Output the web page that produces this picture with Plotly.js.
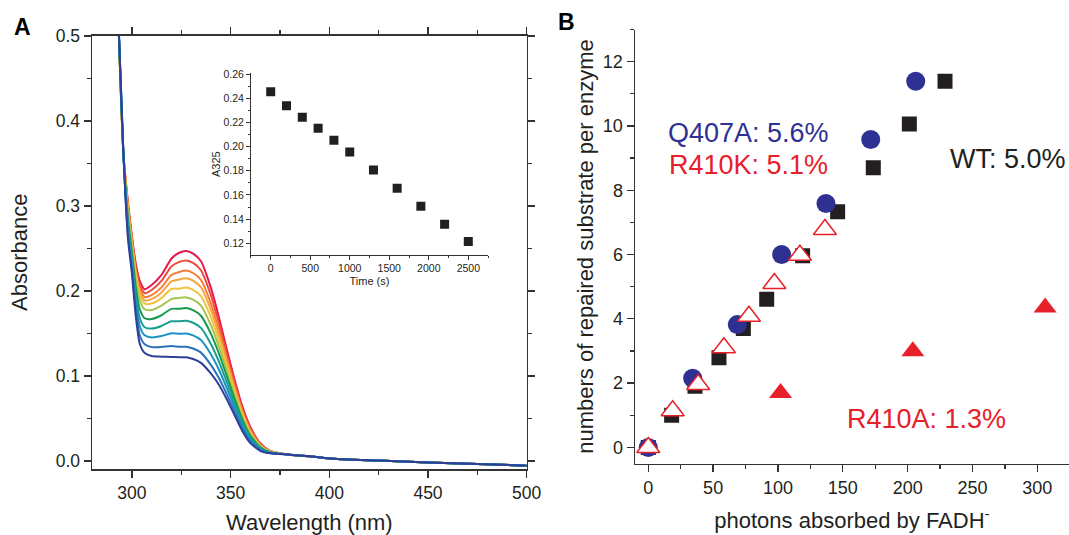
<!DOCTYPE html>
<html>
<head>
<meta charset="utf-8">
<script src="https://cdn.plot.ly/plotly-3.0.1.min.js"></script>
<style>html,body{margin:0;padding:0;background:#fff;}#chart{width:1069px;height:535px;}</style>
</head>
<body>
<div id="chart"></div>
<script>
// ---------- Panel A: absorption spectra ----------
const wavelength = [293, 295.7, 298, 300, 302, 304, 306.5, 310, 315, 320, 324, 327.5, 331, 335, 340, 344, 348, 352, 356, 360, 365, 370];
const tailWavelength = [380, 390, 400, 425, 450, 475, 500];
const tailAbsorbance = [0.0075, 0.0055, 0.003, 0.0005, -0.0018, -0.0035, -0.0055];

const spec0  = [0.53, 0.362, 0.305, 0.265, 0.232, 0.212, 0.202, 0.207, 0.219, 0.238, 0.245, 0.247, 0.244, 0.235, 0.204, 0.170, 0.132, 0.096, 0.064, 0.040, 0.021, 0.012];
const spec1  = [0.53, 0.362, 0.302, 0.262, 0.228, 0.2075, 0.1974, 0.2012, 0.2119, 0.2288, 0.2342, 0.236, 0.2331, 0.2245, 0.1951, 0.163, 0.1268, 0.0923, 0.0614, 0.0383, 0.0202, 0.0117];
const spec2  = [0.53, 0.362, 0.300, 0.260, 0.224, 0.203, 0.1928, 0.1952, 0.2043, 0.2188, 0.2224, 0.224, 0.2212, 0.213, 0.1854, 0.1553, 0.1211, 0.0883, 0.0587, 0.0365, 0.0193, 0.0114];
const spec3  = [0.53, 0.362, 0.298, 0.257, 0.221, 0.199, 0.189, 0.1904, 0.1983, 0.2113, 0.2136, 0.215, 0.2123, 0.2044, 0.1781, 0.1495, 0.1169, 0.0852, 0.0566, 0.0351, 0.0187, 0.0112];
const spec4  = [0.53, 0.362, 0.295, 0.255, 0.218, 0.195, 0.1852, 0.1853, 0.1917, 0.2024, 0.2028, 0.204, 0.2013, 0.1939, 0.1693, 0.1425, 0.1117, 0.0816, 0.054, 0.0335, 0.0179, 0.011];
const spec5  = [0.53, 0.362, 0.291, 0.251, 0.212, 0.189, 0.1783, 0.1776, 0.1828, 0.1905, 0.1918, 0.1925, 0.1899, 0.1829, 0.160, 0.1351, 0.1063, 0.0777, 0.0514, 0.0317, 0.0171, 0.0107];
const spec6  = [0.53, 0.362, 0.286, 0.245, 0.204, 0.1785, 0.168, 0.1671, 0.1715, 0.179, 0.1792, 0.180, 0.1775, 0.1709, 0.1499, 0.1271, 0.1004, 0.0735, 0.0485, 0.0298, 0.0162, 0.0104];
const spec7  = [0.53, 0.362, 0.279, 0.239, 0.195, 0.168, 0.1574, 0.1558, 0.1589, 0.1644, 0.1644, 0.165, 0.1627, 0.1566, 0.1377, 0.1175, 0.0933, 0.0684, 0.045, 0.0275, 0.0151, 0.010];
const spec8  = [0.53, 0.362, 0.274, 0.233, 0.187, 0.1586, 0.1479, 0.1454, 0.147, 0.1503, 0.1497, 0.150, 0.1478, 0.1423, 0.1256, 0.1079, 0.0862, 0.0634, 0.0415, 0.0253, 0.014, 0.0097];
const spec9  = [0.53, 0.362, 0.268, 0.227, 0.179, 0.148, 0.1373, 0.134, 0.1342, 0.1353, 0.1345, 0.1345, 0.1324, 0.1275, 0.1131, 0.098, 0.0789, 0.0582, 0.0379, 0.0229, 0.0129, 0.0093];
const spec10 = [0.53, 0.362, 0.262, 0.221, 0.170, 0.138, 0.127, 0.1235, 0.1228, 0.1225, 0.1222, 0.122, 0.120, 0.1155, 0.103, 0.090, 0.073, 0.054, 0.035, 0.021, 0.012, 0.009];
const spectra = [spec0, spec1, spec2, spec3, spec4, spec5, spec6, spec7, spec8, spec9, spec10];
const spectraColors = ['#e5194f', '#ee4a3a', '#f47c35', '#f8a33c', '#efc43f', '#a8c450', '#16994a', '#179e8e', '#1b93c2', '#2a72ba', '#2e3f98'];

// ---------- Inset: A325 vs time ----------
const timeS = [0, 200, 400, 600, 800, 1000, 1300, 1600, 1900, 2200, 2500];
const a325 = [0.2454, 0.2338, 0.2242, 0.2151, 0.2052, 0.1955, 0.1806, 0.1655, 0.1506, 0.1357, 0.1214];

// ---------- Panel B: repaired substrate vs photons ----------
const wtX = [0, 18, 36, 54.5, 73.3, 91.3, 119, 146, 173.5, 201.3, 228.8];
const wtY = [0, 1.0, 1.9, 2.79, 3.70, 4.61, 5.96, 7.33, 8.70, 10.06, 11.39];
const q407aX = [0, 34.2, 68.6, 102.8, 137, 171.5, 206.2];
const q407aY = [0, 2.15, 3.82, 6.0, 7.59, 9.58, 11.39];
const r410kX = [0, 18.8, 38.5, 58.3, 77.6, 97.2, 116.9, 136.2];
const r410kY = [0, 1.14, 1.96, 3.10, 4.08, 5.10, 5.98, 6.78];
const r410aX = [102, 204, 306];
const r410aY = [1.69, 2.99, 4.35];

const FONT = 'Liberation Sans, Arial, Helvetica, sans-serif';
const INK = '#231f20';
const AX = '#333333';
const BLUE = '#2e3192';
const RED = '#e8202a';

const traces = [];
spectra.forEach((s, i) => {
  traces.push({
    x: wavelength.concat(tailWavelength),
    y: s.concat(tailAbsorbance),
    type: 'scatter', mode: 'lines',
    line: {color: spectraColors[i], width: 2, shape: 'spline', smoothing: 0.6},
    xaxis: 'x', yaxis: 'y', hoverinfo: 'skip', showlegend: false
  });
});
traces.push({
  x: timeS, y: a325, type: 'scatter', mode: 'markers',
  marker: {symbol: 'square', size: 9, color: INK},
  xaxis: 'x2', yaxis: 'y2', showlegend: false
});
traces.push({x: wtX, y: wtY, type: 'scatter', mode: 'markers', name: 'WT',
  marker: {symbol: 'square', size: 15, color: INK}, xaxis: 'x3', yaxis: 'y3', showlegend: false});
traces.push({x: q407aX, y: q407aY, type: 'scatter', mode: 'markers', name: 'Q407A',
  marker: {symbol: 'circle', size: 19, color: BLUE}, xaxis: 'x3', yaxis: 'y3', showlegend: false});
traces.push({x: r410kX, y: r410kY, type: 'scatter', mode: 'markers', name: 'R410K',
  marker: {symbol: 'triangle-up', size: 20, color: '#ffffff', line: {color: RED, width: 1.5}}, xaxis: 'x3', yaxis: 'y3', showlegend: false});
traces.push({x: r410aX, y: r410aY, type: 'scatter', mode: 'markers', name: 'R410A',
  marker: {symbol: 'triangle-up', size: 20, color: RED}, xaxis: 'x3', yaxis: 'y3', showlegend: false});

const W = 1069, H = 535;
const px = v => v / W;
const py = v => 1 - v / H;

const common = {showgrid: false, zeroline: false, showline: true, linecolor: AX, ticks: 'outside', tickcolor: AX, color: INK};

const layout = {
  width: W, height: H,
  margin: {l: 0, r: 0, t: 0, b: 0},
  paper_bgcolor: '#ffffff', plot_bgcolor: 'rgba(0,0,0,0)',
  font: {family: FONT, color: INK},
  showlegend: false,
  xaxis: Object.assign({}, common, {
    domain: [px(92), px(526.7)], anchor: 'y', range: [279.8, 500],
    dtick: 50, tick0: 0, ticklen: 7, tickwidth: 1.3, linewidth: 1.5, mirror: 'allticks',
    minor: {ticks: 'outside', ticklen: 4, dtick: 25, tick0: 0, tickcolor: AX, tickwidth: 1.2},
    tickfont: {size: 17.5, family: FONT, color: INK},
    title: {text: 'Wavelength (nm)', font: {size: 22, family: FONT, color: INK}, standoff: 14}
  }),
  yaxis: Object.assign({}, common, {
    domain: [py(469), py(35.5)], anchor: 'x', range: [-0.0094, 0.5006],
    dtick: 0.1, tick0: 0, tickformat: '.1f', ticklen: 7, tickwidth: 1.3, linewidth: 1.5, mirror: 'allticks',
    minor: {ticks: 'outside', ticklen: 4, dtick: 0.05, tick0: 0, tickcolor: AX, tickwidth: 1.2},
    tickfont: {size: 17.5, family: FONT, color: INK},
    title: {text: 'Absorbance', font: {size: 22, family: FONT, color: INK}, standoff: 22}
  }),
  xaxis2: Object.assign({}, common, {
    domain: [px(250.7), px(488.3)], anchor: 'y2', range: [-253, 2753],
    dtick: 500, tick0: 0, ticklen: 3.5, tickwidth: 1, linewidth: 1.2,
    minor: {ticks: 'outside', ticklen: 2, dtick: 250, tick0: 0, tickcolor: AX, tickwidth: 1},
    tickfont: {size: 10.5, family: FONT, color: INK},
    title: {text: 'Time (s)', font: {size: 11, family: FONT, color: INK}, standoff: 4}
  }),
  yaxis2: Object.assign({}, common, {
    domain: [py(255), py(73.3)], anchor: 'x2', range: [0.1103, 0.2606],
    dtick: 0.02, tick0: 0, tickformat: '.2f', ticklen: 3.5, tickwidth: 1, linewidth: 1.2,
    minor: {ticks: 'outside', ticklen: 2, dtick: 0.01, tick0: 0, tickcolor: AX, tickwidth: 1},
    tickfont: {size: 10.5, family: FONT, color: INK},
    title: {text: 'A325', font: {size: 11, family: FONT, color: INK}, standoff: 0}
  }),
  xaxis3: Object.assign({}, common, {
    domain: [px(635), 1], anchor: 'y3', range: [-10.25, 324.4],
    dtick: 50, tick0: 0, ticklen: 7, tickwidth: 1.3, linewidth: 1.5,
    minor: {ticks: 'outside', ticklen: 4, dtick: 25, tick0: 0, tickcolor: AX, tickwidth: 1.2},
    tickfont: {size: 18, family: FONT, color: INK},
    title: {text: 'photons absorbed by FADH<sup>-</sup>', font: {size: 22, family: FONT, color: INK}, standoff: 16}
  }),
  yaxis3: Object.assign({}, common, {
    domain: [py(463.5), py(29.5)], anchor: 'x3', range: [-0.5, 13.0],
    dtick: 2, tick0: 0, ticklen: 7, tickwidth: 1.3, linewidth: 1.5,
    minor: {ticks: 'outside', ticklen: 4, dtick: 1, tick0: 0, tickcolor: AX, tickwidth: 1.2},
    tickfont: {size: 18, family: FONT, color: INK},
    title: {text: 'numbers of repaired substrate per enzyme', font: {size: 22, family: FONT, color: INK}, standoff: 3}
  }),
  annotations: [
    {text: '<b>A</b>', xref: 'paper', yref: 'paper', x: px(22), y: py(27), xanchor: 'center', yanchor: 'middle', showarrow: false, font: {size: 23, family: FONT, color: '#000'}},
    {text: '<b>B</b>', xref: 'paper', yref: 'paper', x: px(566), y: py(22), xanchor: 'center', yanchor: 'middle', showarrow: false, font: {size: 23, family: FONT, color: '#000'}},
    {text: 'Q407A: 5.6%', xref: 'paper', yref: 'paper', x: px(748), y: py(133), xanchor: 'center', yanchor: 'middle', showarrow: false, font: {size: 27, family: FONT, color: BLUE}},
    {text: 'R410K: 5.1%', xref: 'paper', yref: 'paper', x: px(748), y: py(165), xanchor: 'center', yanchor: 'middle', showarrow: false, font: {size: 27, family: FONT, color: RED}},
    {text: 'WT: 5.0%', xref: 'paper', yref: 'paper', x: px(1008), y: py(159), xanchor: 'center', yanchor: 'middle', showarrow: false, font: {size: 27, family: FONT, color: INK}},
    {text: 'R410A: 1.3%', xref: 'paper', yref: 'paper', x: px(926), y: py(419), xanchor: 'center', yanchor: 'middle', showarrow: false, font: {size: 27, family: FONT, color: RED}}
  ]
};

Plotly.newPlot('chart', traces, layout, {staticPlot: true, displayModeBar: false});
</script>
</body>
</html>
